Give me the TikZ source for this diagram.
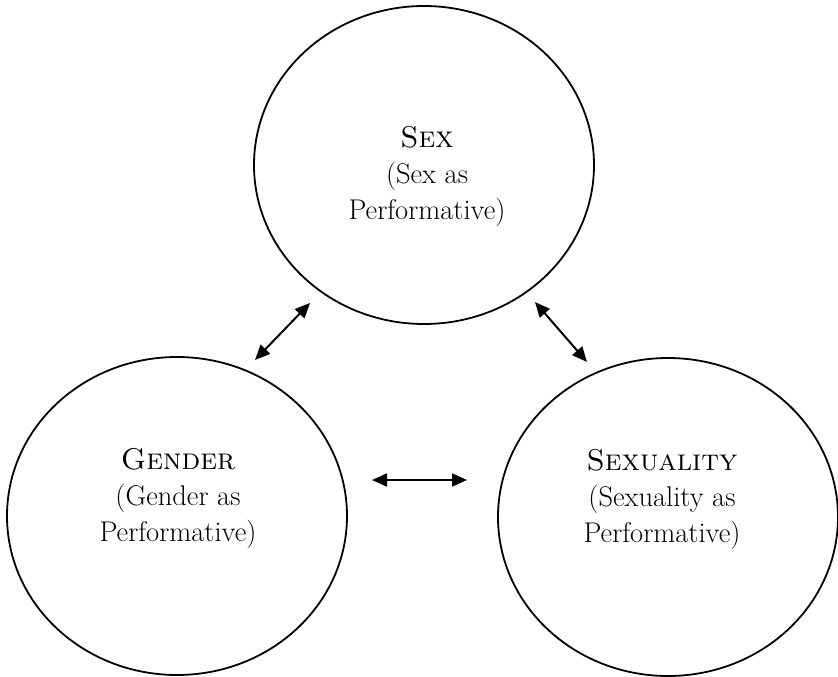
\documentclass[tikz,border=0pt]{standalone}
\usetikzlibrary{shapes.geometric,arrows.meta}
\begin{document}
\begin{tikzpicture}[x=1pt,y=-1pt,
  bubble/.style={draw=black,line width=1.8pt,shape=ellipse,inner sep=0pt,
    minimum width=340pt,minimum height=318pt},
  label/.style={align=center,font=\fontsize{28.5}{36}\selectfont,inner sep=0pt},
  link/.style={line width=2pt,{Triangle[length=15pt,width=13pt]}-{Triangle[length=15pt,width=13pt]}}]
\useasboundingbox (0,0) rectangle (838,677);
\node[bubble] (sex) at (424,165) {};
\node[bubble] (gender) at (177,516) {};
\node[bubble] (sexuality) at (668,517) {};
\node[label] (sextxt) at (427,176) {{\fontsize{30}{36}\selectfont\textsc{Sex}}\\(Sex as\\Performative)};
\node[label] (gendertxt) at (178,498) {{\fontsize{30}{36}\selectfont\textsc{Gender}}\\(Gender as\\Performative)};
\node[label] (sexualitytxt) at (662,499) {{\fontsize{30}{36}\selectfont\textsc{Sexuality}}\\(Sexuality as\\Performative)};
\coordinate (a1s) at (255,360);
\coordinate (a1e) at (310,303);
\coordinate (a2s) at (535,302);
\coordinate (a2e) at (587,362);
\coordinate (a3s) at (372,480);
\coordinate (a3e) at (467,480);
\draw[link] (a1s) -- (a1e);
\draw[link] (a2s) -- (a2e);
\draw[link] (a3s) -- (a3e);
\end{tikzpicture}
\end{document}
